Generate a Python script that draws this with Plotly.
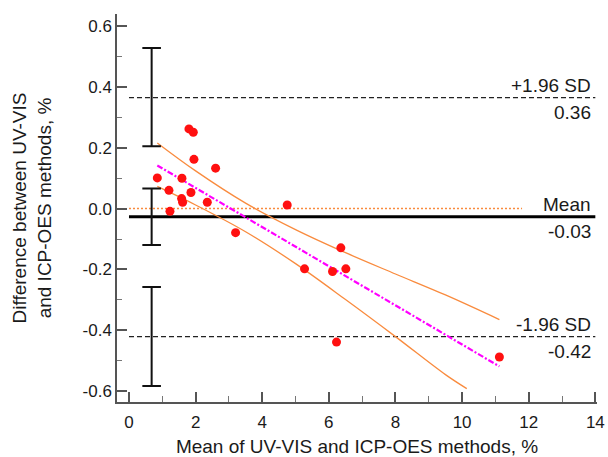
import plotly.graph_objects as go

# Data points (mean of methods, difference)
mean_x = [0.85, 1.20, 1.23, 1.59, 1.58, 1.61, 1.80, 1.93, 1.95, 1.86,
          2.35, 2.60, 3.20, 4.75, 6.36, 5.27, 6.11, 6.51, 6.23, 11.12]
diff_y = [0.101, 0.060, -0.009, 0.100, 0.033, 0.021, 0.262, 0.251, 0.162, 0.053,
          0.021, 0.133, -0.079, 0.012, -0.129, -0.198, -0.207, -0.198, -0.439, -0.488]

# Limits of agreement
line_x = [0, 14]
upper_loa = 0.365
mean_diff = -0.027
lower_loa = -0.421

# Confidence intervals of limits (drawn as error bars)
ci_x = [0.68, 0.68, 0.68]
ci_center = [0.365, -0.027, -0.421]
ci_high = [0.528, 0.066, -0.258]
ci_low = [0.205, -0.120, -0.583]

# zero reference line
zero_x = [0, 11.8]
zero_y = [0, 0]

# regression line
reg_x = [0.85, 11.12]
reg_y = [0.142, -0.519]

# confidence band of regression
band_up_x = [0.85, 2.0, 3.5, 5.0, 6.5, 8.0, 9.5, 11.12]
band_up_y = [0.216, 0.124, 0.018, -0.069, -0.145, -0.215, -0.284, -0.365]
band_lo_x = [0.85, 2.0, 3.5, 5.0, 6.5, 8.0, 9.5, 10.14]
band_lo_y = [0.073, 0.012, -0.076, -0.181, -0.299, -0.421, -0.546, -0.592]

x_ticks = [0, 2, 4, 6, 8, 10, 12, 14]
y_ticks = [0.6, 0.4, 0.2, 0.0, -0.2, -0.4, -0.6]
y_ticktext = ["0.6", "0.4", "0.2", "0.0", "-0.2", "-0.4", "-0.6"]

FONT = "Liberation Sans, Arial, sans-serif"
TXT = "#1a1a1a"
ORANGE = "#f98b3e"

fig = go.Figure()

# SD dashed lines
for yv in [upper_loa, lower_loa]:
    fig.add_trace(go.Scatter(x=line_x, y=[yv, yv], mode="lines",
                             line=dict(color="#222", width=1.4, dash="5px,3px"),
                             hoverinfo="skip", showlegend=False))
# mean line
fig.add_trace(go.Scatter(x=line_x, y=[mean_diff, mean_diff], mode="lines",
                         line=dict(color="#000", width=3),
                         hoverinfo="skip", showlegend=False))
# zero dotted line
fig.add_trace(go.Scatter(x=zero_x, y=zero_y, mode="lines",
                         line=dict(color=ORANGE, width=1.5, dash="2px,2px"),
                         hoverinfo="skip", showlegend=False))
# confidence band
fig.add_trace(go.Scatter(x=band_up_x, y=band_up_y, mode="lines",
                         line=dict(color=ORANGE, width=1.3, shape="spline"),
                         hoverinfo="skip", showlegend=False))
fig.add_trace(go.Scatter(x=band_lo_x, y=band_lo_y, mode="lines",
                         line=dict(color=ORANGE, width=1.3, shape="spline"),
                         hoverinfo="skip", showlegend=False))
# regression line
fig.add_trace(go.Scatter(x=reg_x, y=reg_y, mode="lines",
                         line=dict(color="#ff00ff", width=2.2, dash="6px,2px,2px,2px"),
                         hoverinfo="skip", showlegend=False))
# error bars
fig.add_trace(go.Scatter(
    x=ci_x, y=ci_center, mode="markers",
    marker=dict(size=1, opacity=0),
    error_y=dict(type="data", symmetric=False,
                 array=[h - c for h, c in zip(ci_high, ci_center)],
                 arrayminus=[c - l for l, c in zip(ci_low, ci_center)],
                 color="#111", thickness=2, width=9.3),
    hoverinfo="skip", showlegend=False))
# points
fig.add_trace(go.Scatter(x=mean_x, y=diff_y, mode="markers",
                         marker=dict(color="#ff1010", size=9, line=dict(width=0)),
                         showlegend=False))

# annotations
ann = [
    ("+1.96 SD", upper_loa, "bottom"),
    ("0.36", upper_loa, "top"),
    ("Mean", mean_diff, "bottom"),
    ("-0.03", mean_diff, "top"),
    ("-1.96 SD", lower_loa, "bottom"),
    ("-0.42", lower_loa, "top"),
]
for txt, yv, pos in ann:
    fig.add_annotation(x=14, y=yv, xref="x", yref="y", text=txt, showarrow=False,
                       xanchor="right", yanchor=pos, xshift=-2,
                       yshift=0 if pos == "bottom" else -2,
                       font=dict(family=FONT, size=19, color=TXT))

axis_common = dict(showgrid=False, zeroline=False, showline=True, automargin=False,
                   linecolor="#555", linewidth=1.5, ticks="inside",
                   tickcolor="#555", tickwidth=1.5, ticklen=10,
                   tickfont=dict(family=FONT, size=17, color=TXT))

fig.update_xaxes(range=[-0.36, 14.05], tickvals=x_ticks, ticklabelstandoff=4,
                 minor=dict(ticks="inside", ticklen=6, tickcolor="#777",
                            tickwidth=1.2, dtick=1, tick0=0),
                 title=dict(text="Mean of UV-VIS and ICP-OES methods, %",
                            font=dict(family=FONT, size=19, color=TXT), standoff=13),
                 **axis_common)
fig.update_yaxes(range=[-0.636, 0.64], tickvals=y_ticks, ticktext=y_ticktext,
                 minor=dict(ticks="inside", ticklen=5, tickcolor="#777",
                            tickwidth=1.2, dtick=0.1, tick0=0),
                 title=dict(text="Difference between UV-VIS<br>and ICP-OES methods, %",
                            font=dict(family=FONT, size=19, color=TXT), standoff=26),
                 **axis_common)

fig.update_layout(width=608, height=457,
                  margin=dict(l=117, r=11, t=14, b=55),
                  plot_bgcolor="white", paper_bgcolor="white",
                  showlegend=False)

fig.write_html("out.html")
